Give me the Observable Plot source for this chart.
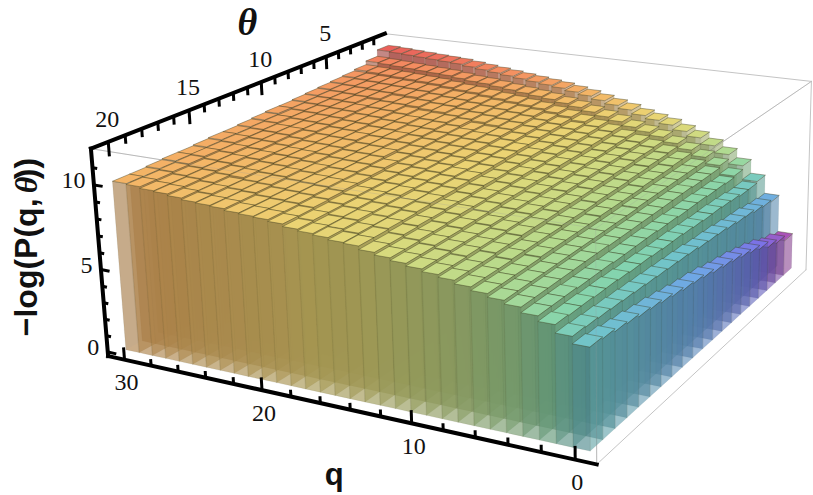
<!DOCTYPE html>
<html><head><meta charset="utf-8">
<style>html,body{margin:0;padding:0;background:#fff}svg{display:block}</style>
<script src="https://cdn.jsdelivr.net/npm/d3@7"></script>
<script src="https://cdn.jsdelivr.net/npm/@observablehq/plot@0.6"></script>
</head><body><div id="chart"></div>
<script>
const qValues = d3.range(0, 31);
const theta1 = [2.3,4.7,5.9,6.8,7.4,7.85,8.25,8.55,8.85,9.05,9.25,9.5,9.7,9.9,10.1,10.25,10.4,10.5,10.6,10.7,10.8,10.9,11.0,11.1,11.2,11.25,11.3,11.35,11.4,11.45,11.5];
const theta2 = [2.6,4.8,5.8,6.55,7.1,7.5,7.85,8.15,8.45,8.65,8.85,9.1,9.3,9.5,9.7,9.85,10.0,10.1,10.2,10.3,10.4,10.5,10.55,10.65,10.75,10.8,10.85,10.9,10.95,11.0,11.05];
const theta3 = [2.8,4.9,5.8,6.45,6.95,7.3,7.65,7.95,8.2,8.4,8.6,8.85,9.05,9.25,9.45,9.6,9.75,9.85,9.95,10.05,10.15,10.25,10.3,10.4,10.5,10.55,10.6,10.65,10.7,10.75,10.8];
const theta4 = [3.15,5.05,5.9,6.5,6.95,7.3,7.65,7.9,8.15,8.35,8.55,8.8,9.0,9.15,9.35,9.5,9.65,9.75,9.85,9.95,10.05,10.15,10.2,10.3,10.4,10.45,10.5,10.55,10.6,10.65,10.7];
const theta5 = [3.4,5.1,5.95,6.5,6.95,7.3,7.6,7.9,8.15,8.3,8.5,8.75,8.95,9.1,9.3,9.45,9.6,9.7,9.8,9.9,10.0,10.1,10.15,10.25,10.35,10.4,10.45,10.5,10.55,10.6,10.65];
const theta6 = [3.6,5.2,6.0,6.55,7.0,7.3,7.6,7.85,8.1,8.3,8.45,8.7,8.9,9.05,9.25,9.4,9.55,9.65,9.75,9.85,9.95,10.05,10.1,10.2,10.25,10.3,10.4,10.45,10.5,10.55,10.6];
const theta7 = [3.8,5.3,6.0,6.55,7.0,7.3,7.6,7.85,8.1,8.25,8.45,8.65,8.85,9.0,9.2,9.35,9.5,9.55,9.65,9.8,9.9,9.95,10.0,10.1,10.2,10.25,10.3,10.4,10.45,10.5,10.55];
const theta8 = [3.95,5.35,6.05,6.55,7.0,7.3,7.55,7.8,8.05,8.25,8.4,8.65,8.8,9.0,9.2,9.3,9.45,9.55,9.65,9.75,9.85,9.9,10.0,10.05,10.15,10.2,10.3,10.35,10.4,10.45,10.5];
const theta9 = [4.1,5.4,6.1,6.6,7.0,7.3,7.55,7.8,8.05,8.2,8.4,8.6,8.75,8.95,9.15,9.25,9.4,9.5,9.6,9.7,9.8,9.85,9.95,10.0,10.1,10.15,10.25,10.3,10.35,10.4,10.45];
const theta10 = [4.3,5.5,6.15,6.6,7.0,7.25,7.55,7.8,8.0,8.2,8.35,8.55,8.75,8.9,9.1,9.2,9.35,9.45,9.55,9.65,9.75,9.85,9.9,9.95,10.05,10.1,10.2,10.25,10.3,10.35,10.45];
const theta11 = [4.45,5.55,6.15,6.65,7.0,7.25,7.55,7.75,8.0,8.15,8.35,8.55,8.7,8.85,9.05,9.15,9.3,9.4,9.5,9.6,9.7,9.8,9.85,9.95,10.0,10.05,10.15,10.2,10.25,10.35,10.4];
const theta12 = [4.55,5.6,6.2,6.65,7.0,7.25,7.5,7.75,8.0,8.15,8.3,8.5,8.65,8.85,9.05,9.15,9.25,9.35,9.45,9.55,9.7,9.75,9.8,9.9,9.95,10.0,10.1,10.2,10.25,10.3,10.35];
const theta13 = [4.7,5.65,6.25,6.65,7.0,7.25,7.5,7.75,7.95,8.15,8.3,8.5,8.65,8.8,9.0,9.1,9.2,9.3,9.4,9.55,9.65,9.7,9.75,9.85,9.9,9.95,10.05,10.15,10.2,10.25,10.3];
const theta14 = [4.85,5.7,6.25,6.65,7.05,7.25,7.5,7.7,7.95,8.1,8.25,8.45,8.6,8.75,8.95,9.05,9.15,9.25,9.35,9.5,9.6,9.65,9.7,9.8,9.9,9.95,10.0,10.1,10.15,10.25,10.3];
const theta15 = [5.0,5.75,6.3,6.7,7.05,7.25,7.5,7.7,7.95,8.1,8.25,8.4,8.6,8.75,8.95,9.0,9.15,9.2,9.3,9.45,9.55,9.6,9.7,9.75,9.85,9.9,10.0,10.05,10.15,10.2,10.25];
const theta16 = [5.1,5.8,6.35,6.7,7.05,7.25,7.5,7.7,7.9,8.05,8.2,8.4,8.55,8.7,8.9,9.0,9.1,9.2,9.3,9.45,9.55,9.6,9.65,9.75,9.8,9.85,9.95,10.05,10.1,10.2,10.2];
const theta17 = [5.25,5.85,6.35,6.7,7.05,7.25,7.45,7.7,7.9,8.05,8.2,8.35,8.5,8.7,8.85,8.95,9.05,9.15,9.25,9.4,9.5,9.55,9.6,9.7,9.75,9.85,9.9,10.0,10.05,10.15,10.2];
const theta18 = [5.35,5.9,6.4,6.75,7.05,7.25,7.45,7.65,7.85,8.05,8.2,8.35,8.5,8.65,8.85,8.9,9.05,9.1,9.2,9.35,9.45,9.5,9.55,9.65,9.7,9.75,9.85,9.95,10.0,10.1,10.15];
const theta19 = [5.5,5.95,6.4,6.75,7.05,7.25,7.45,7.65,7.85,8.0,8.15,8.3,8.45,8.6,8.8,8.9,9.0,9.05,9.2,9.3,9.4,9.45,9.5,9.6,9.65,9.75,9.8,9.9,9.95,10.05,10.1];
const theta20 = [5.6,6.0,6.45,6.75,7.05,7.25,7.45,7.65,7.85,8.0,8.15,8.3,8.45,8.6,8.8,8.85,8.97,9.05,9.15,9.3,9.4,9.45,9.5,9.6,9.65,9.7,9.8,9.9,9.95,10.05,10.1];
const heights = [theta1,theta2,theta3,theta4,theta5,theta6,theta7,theta8,theta9,theta10,theta11,theta12,theta13,theta14,theta15,theta16,theta17,theta18,theta19,theta20];

const qMajor = [0,10,20,30], qMinor = [2,4,6,8,12,14,16,18,22,24,26,28];
const thetaMajor = [5,10,15,20], thetaMinor = [1,2,3,4,6,7,8,9,11,12,13,14,16,17,18,19];
const zMajor = [0,5,10], zMinor = [1,2,3,4,6,7,8,9,11];
const box = {q0:-1.25, q1:31.25, t0:0, t1:21, z0:-0.25, z1:12.1};
const colorStops = [[2.2,"#b050b0"],[3,"#7c6ce6"],[4.4,"#6fa6e6"],[5.5,"#70c2cc"],[6.3,"#84d4ae"],[7.5,"#b4da8e"],[8.4,"#d6da7e"],[9.2,"#ecd272"],[10.1,"#f4b466"],[10.9,"#f48c60"],[11.6,"#e85a5a"]];

// Camera: solved from the picture's box corners, axis ticks and a few bar corners.
const anchors = [
 [31.25,21,-.25,108,356],[-1.25,21,-.25,597,463],[-1.25,0,-.25,804,269],
 [31.25,21,12.1,90,149],[-1.25,21,12.1,594,228],[-1.25,0,12.1,811,80],[31.25,0,12.1,385,35],
 [30,21,-.25,124,359.5],[20,21,-.25,260,389],[10,21,-.25,411,422],[0,21,-.25,576,458],
 [31.25,20,12.1,107,142.4],[31.25,15,12.1,189,110.5],[31.25,10,12.1,262,82],[31.25,5,12.1,328,56.5],[31.25,1,12.1,375,38],
 [31.25,21,0,107.6,352],[31.25,21,5,100.4,269],[31.25,21,10,93,184],
 [30.5,1.5,11.5,377,47],[30.5,.5,11.5,383,43],[30.5,20.5,0,125,348],[-.5,20.5,0,590,452],[-.5,.5,0,792,270]];
function solveCamera(){
  const n=11, A=d3.range(n).map(()=>new Array(n+1).fill(0));
  const add=(r,b)=>{for(let i=0;i<n;i++){for(let j=0;j<n;j++)A[i][j]+=r[i]*r[j];A[i][n]+=r[i]*b;}};
  for(const [q,t,z,x,y] of anchors){const X=q/30,Y=t/20,Z=z/12,u=x/800,v=y/800;
    add([X,Y,Z,1,0,0,0,0,-u*X,-u*Y,-u*Z],u);add([0,0,0,0,X,Y,Z,1,-v*X,-v*Y,-v*Z],v);}
  for(let c=0;c<n;c++){let p=c;for(let r=c+1;r<n;r++)if(Math.abs(A[r][c])>Math.abs(A[p][c]))p=r;[A[c],A[p]]=[A[p],A[c]];
    for(let r=0;r<n;r++){if(r===c)continue;const f=A[r][c]/A[c][c];for(let k=c;k<=n;k++)A[r][k]-=f*A[c][k];}}
  return A.map((r,i)=>r[n]/r[i]);
}
const P=solveCamera();
function project(q,t,z){const X=q/30,Y=t/20,Z=z/12,w=P[8]*X+P[9]*Y+P[10]*Z+1;
  return [800*(P[0]*X+P[1]*Y+P[2]*Z+P[3])/w,800*(P[4]*X+P[5]*Y+P[6]*Z+P[7])/w];}
const heightColor=d3.scaleLinear().domain(colorStops.map(d=>d[0])).range(colorStops.map(d=>d[1])).interpolate(d3.interpolateRgb).clamp(true);
const shade=(c,k)=>{const r=d3.rgb(c);return d3.rgb(r.r*k,r.g*k,r.b*k).formatHex();};

const faces=[]; let id=0;
function face(pts,fill,opacity,stroke,sw){const k=id++;for(const p of pts){const [x,y]=project(...p);faces.push({x,y,k,fill,opacity,stroke,sw});}}
heights.forEach((row,ti)=>{const t=ti+1;
  for(let i=row.length-1;i>=0;i--){const q=qValues[i],z=row[i],c=heightColor(z);
    const a=q-.5,b=q+.5,f=t+.5,g=t-.5;
    face([[a,g,0],[b,g,0],[b,f,0],[a,f,0]],c,.22,"none",0);
    face([[a,g,0],[b,g,0],[b,g,z],[a,g,z]],shade(c,.8),.18,"none",0);
    face([[b,g,0],[b,f,0],[b,f,z],[b,g,z]],shade(c,.8),.18,"none",0);
    face([[a,f,0],[a,g,0],[a,g,z],[a,f,z]],shade(c,.78),.5,"rgba(70,80,60,.12)",.5);
    face([[a,f,0],[b,f,0],[b,f,z],[a,f,z]],shade(c,.66),.55,"rgba(70,70,40,.16)",.6);
    face([[a,g,z],[b,g,z],[b,f,z],[a,f,z]],c,1,"rgba(60,60,30,.62)",.65);
  }
});

const lineOf=(a,b)=>[project(...a),project(...b)];
const {q0,q1,t0,t1,z0,z1}=box;
const segs=(list)=>list.flatMap((s,k)=>s.map(([x,y])=>({x,y,k})));
const backBox=segs([lineOf([q1,t1,z1],[q0,t1,z1]),lineOf([q0,t0,z1],[q1,t0,z1]),lineOf([q0,t0,z1],[q0,t0,z0]),lineOf([q0,t0,z1],[q0,t1,z1]),lineOf([q0,t0,z0],[q0,t1,z0]),lineOf([q0,t1,z0],[q0,t1,z1])]);
const frontBox=segs([lineOf([q1,t1,z1],[q0,t1,z1]),lineOf([q0,t0,z1],[q0,t1,z1]),lineOf([q0,t1,z0],[q0,t1,z1])]);
const axes=segs([lineOf([q0,t1,z0],[q1,t1,z0]),lineOf([q1,t1,z0],[q1,t1,z1]),lineOf([q1,t1,z1],[q1,t0,z1])]);
function links(vals,from,to){return vals.map(v=>{const [x1,y1]=project(...from(v)),[x2,y2]=project(...to(v));return {x1,y1,x2,y2};});}
const tickSets=[
 ...links(qMajor,q=>[q,t1,z0],q=>[q,t1,z0+.75]),...links(qMinor,q=>[q,t1,z0],q=>[q,t1,z0+.4]),
 ...links(thetaMajor,t=>[q1,t,z1],t=>[q1,t,z1-.85]),...links(thetaMinor,t=>[q1,t,z1],t=>[q1,t,z1-.5]),
 ...links(zMajor,z=>[q1,t1,z],z=>[q1-.65,t1,z]),...links(zMinor,z=>[q1,t1,z],z=>[q1-.35,t1,z])];
const label=(v,p,dx,dy)=>{const [x,y]=project(...p);return {text:String(v),x:x+dx,y:y+dy};};
const tickLabels=[
 ...qMajor.map(q=>label(q,[q,t1,z0],2,23)),
 ...thetaMajor.map(t=>label(t,[q1,t,z1],-1,-23))];
const zLabels=zMajor.map(z=>label(z,[q1,t1,z],-8.5,-4.5));
const [lx,ly]=project(q1,t1,5.5);
const [qx,qy]=project(15,t1,z0);
const [tx,ty]=project(q1,11,z1);

const serif="'Liberation Serif',serif", sans="'Liberation Sans',sans-serif";
const fig=Plot.plot({
  width:813,height:495,margin:0,
  x:{domain:[0,813],range:[0,813],axis:null},
  y:{domain:[0,495],range:[0,495],axis:null},
  color:{type:"identity"},opacity:{type:"identity"},
  marks:[
    Plot.line(backBox,{x:"x",y:"y",z:"k",stroke:"#c4c4c4",strokeWidth:1}),
    Plot.line(faces,{x:"x",y:"y",z:"k",curve:"linear-closed",fill:"fill",fillOpacity:"opacity",stroke:"stroke",strokeWidth:"sw"}),
    Plot.line(frontBox,{x:"x",y:"y",z:"k",stroke:"#999",strokeOpacity:.3,strokeWidth:.8}),
    Plot.line(axes,{x:"x",y:"y",z:"k",stroke:"#000",strokeWidth:4,strokeLinecap:"square",strokeLinejoin:"miter"}),
    Plot.link(tickSets,{x1:"x1",y1:"y1",x2:"x2",y2:"y2",stroke:"#000",strokeWidth:3}),
    Plot.text(tickLabels,{x:"x",y:"y",text:"text",fontFamily:serif,fontSize:24,fill:"#111"}),
    Plot.text(zLabels,{x:"x",y:"y",text:"text",textAnchor:"end",fontFamily:serif,fontSize:24,fill:"#111"}),
    Plot.text(["θ"],{x:[tx],y:[ty-65],fontFamily:serif,fontWeight:"bold",fontStyle:"italic",fontSize:38,fill:"#111"}),
    Plot.text(["q"],{x:[qx-1],y:[qy+69],fontFamily:sans,fontWeight:"bold",fontSize:31,fill:"#111"}),
    Plot.text(["−log(P(q,"],{x:[lx-74],y:[ly+75],rotate:-90,textAnchor:"start",fontFamily:sans,fontWeight:"bold",fontSize:32,fill:"#111"}),
    Plot.text(["θ"],{x:[lx-74],y:[ly-68],rotate:-90,textAnchor:"start",fontFamily:serif,fontWeight:"bold",fontStyle:"italic",fontSize:32,fill:"#111"}),
    Plot.text(["))"],{x:[lx-74],y:[ly-82],rotate:-90,textAnchor:"start",fontFamily:sans,fontWeight:"bold",fontSize:32,fill:"#111"})
  ]
});
document.getElementById("chart").append(fig);
</script></body></html>
